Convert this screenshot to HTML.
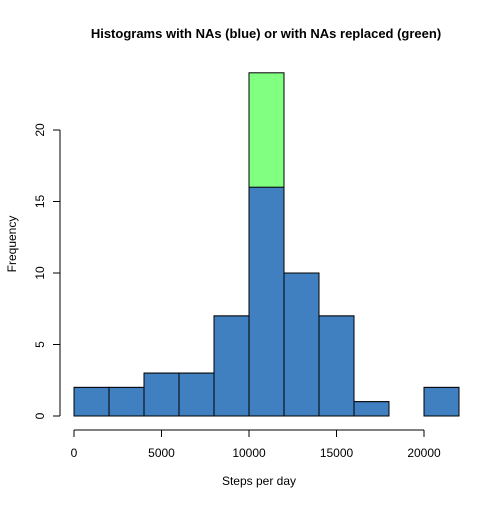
<!DOCTYPE html>
<html><head><meta charset="utf-8"><style>
body{margin:0;background:#fff}
svg text{font-family:"Liberation Sans",Arial,sans-serif;fill:#000}
</style></head><body>
<svg id="c" width="504" height="504" viewBox="0 0 504 504">
<text x="266" y="38" text-anchor="middle" font-size="13" font-weight="bold">Histograms with NAs (blue) or with NAs replaced (green)</text>
<text x="259" y="485" text-anchor="middle" font-size="12">Steps per day</text>
<text transform="translate(16,244) rotate(-90)" text-anchor="middle" font-size="12">Frequency</text>
<g id="bars"></g>
<g id="axes"></g>
</svg>
<script>
const binStarts=[0,2000,4000,6000,8000,10000,12000,14000,16000,18000,20000];
const binWidth=2000;
const blueCounts=[2,2,3,3,7,16,10,7,1,0,2];
const greenCounts=[2,2,3,3,7,24,10,7,1,0,2];
const xTicks=[0,5000,10000,15000,20000];
const yTicks=[0,5,10,15,20];
const X=v=>74+v*350/20000;
const Y=v=>416-v*286/20;
const NS="http://www.w3.org/2000/svg";
const bars=document.getElementById('bars'),axes=document.getElementById('axes');
function mk(tag,attrs,parent){const e=document.createElementNS(NS,tag);for(const k in attrs)e.setAttribute(k,attrs[k]);parent.appendChild(e);return e;}
function drawSeries(counts,fill,name){
counts.forEach((c,i)=>{if(c<=0)return;
const r=mk('rect',{x:X(binStarts[i]),y:Y(c),width:X(binStarts[i]+binWidth)-X(binStarts[i]),height:Y(0)-Y(c),fill:fill,stroke:'#000','stroke-width':1},bars);

});
}
drawSeries(greenCounts,'#80FF80','green');
drawSeries(blueCounts,'#4080C0','blue');
const xl=mk('line',{x1:X(xTicks[0]),x2:X(xTicks[xTicks.length-1]),y1:430,y2:430,stroke:'#000'},axes);


xTicks.forEach(t=>{mk('line',{x1:X(t),x2:X(t),y1:430,y2:437,stroke:'#000'},axes);
const tx=mk('text',{x:X(t),y:457,'text-anchor':'middle','font-size':12},axes);tx.textContent=t;

});
const yl=mk('line',{x1:60,x2:60,y1:Y(yTicks[0]),y2:Y(yTicks[yTicks.length-1]),stroke:'#000'},axes);


yTicks.forEach(t=>{mk('line',{x1:53,x2:60,y1:Y(t),y2:Y(t),stroke:'#000'},axes);
const tx=mk('text',{transform:`translate(44,${Y(t)}) rotate(-90)`,'text-anchor':'middle','font-size':12},axes);tx.textContent=t;

});
</script>
</body></html>
